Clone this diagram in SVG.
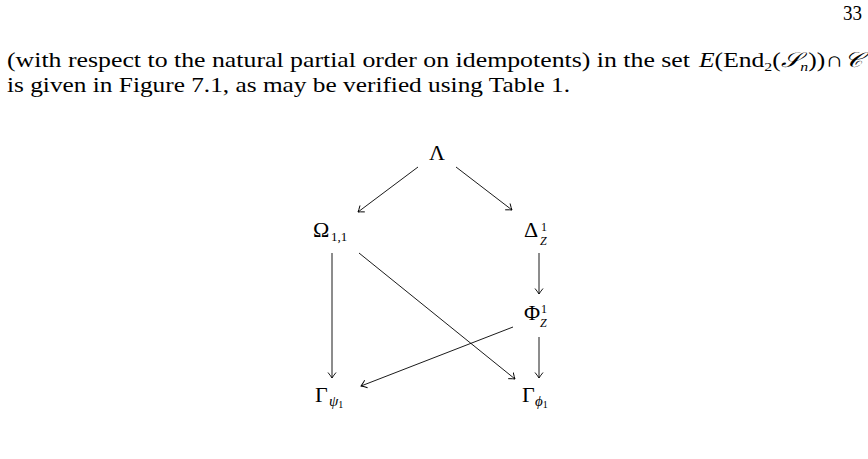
<svg xmlns="http://www.w3.org/2000/svg" width="868" height="459" viewBox="0 0 868 459">
<style>
.t{font-family:"Liberation Serif","DejaVu Serif",serif;font-size:21px;fill:#000}
.m{font-family:"Liberation Serif","DejaVu Serif",serif;font-size:22px;fill:#000}
.s{font-size:13px}
.ss{font-size:12px}
.i{font-style:italic}
.e{stroke:#000;stroke-width:0.9;fill:none}
</style>
<defs>
<marker id="ah" viewBox="-6 -5 7 10" refX="0" refY="0" markerWidth="7" markerHeight="10" markerUnits="userSpaceOnUse" orient="auto">
<path d="M-5.5,-4 Q-1.5,-0.8 0,0 Q-1.5,0.8 -5.5,4" fill="none" stroke="#000" stroke-width="0.9"/>
</marker>
</defs>
<g id="page-text">
<text class="t" x="843" y="20" textLength="19" lengthAdjust="spacingAndGlyphs">33</text>
<text class="t" x="7" y="67" textLength="683" lengthAdjust="spacingAndGlyphs">(with respect to the natural partial order on idempotents) in the set</text>
<text class="t" x="699" y="67" textLength="163" lengthAdjust="spacingAndGlyphs"><tspan class="i">E</tspan>(End<tspan class="s" dy="4">2</tspan><tspan dy="-4">(</tspan><tspan class="i">𝒮</tspan><tspan class="s i" dy="4">n</tspan><tspan dy="-4">))∩</tspan><tspan class="i">𝒞</tspan></text>
<text class="t" x="7" y="92" textLength="563" lengthAdjust="spacingAndGlyphs">is given in Figure 7.1, as may be verified using Table 1.</text>
</g>
<g id="n-lambda"><text class="m" x="437" y="160" text-anchor="middle">Λ</text></g>
<g id="n-omega"><text class="m" x="313" y="237">Ω<tspan class="s" x="331" dy="4">1,1</tspan></text></g>
<g id="n-delta"><text class="m" x="524" y="237">Δ<tspan class="ss" x="541" dy="-6.5">1</tspan><tspan class="ss i" x="540" dy="14">Z</tspan></text></g>
<g id="n-phi"><text class="m" x="524" y="320">Φ<tspan class="ss" x="541" dy="-7">1</tspan><tspan class="ss i" x="540" dy="14">Z</tspan></text></g>
<g id="n-gpsi"><text class="m" x="315" y="402">Γ<tspan class="i" font-size="15" x="329" dy="4">ψ</tspan><tspan font-size="10" dy="1.5">1</tspan></text></g>
<g id="n-gphi"><text class="m" x="522" y="402">Γ<tspan class="i" font-size="15" x="535" dy="4">ϕ</tspan><tspan font-size="10" dy="1.5">1</tspan></text></g>
<g id="connectors">
<line class="e" x1="418" y1="167" x2="358" y2="212" marker-end="url(#ah)"/>
<line class="e" x1="456" y1="167" x2="512" y2="210" marker-end="url(#ah)"/>
<line class="e" x1="332" y1="253" x2="332" y2="378" marker-end="url(#ah)"/>
<line class="e" x1="359" y1="253" x2="515" y2="379" marker-end="url(#ah)"/>
<line class="e" x1="539" y1="253" x2="539" y2="294" marker-end="url(#ah)"/>
<line class="e" x1="513" y1="327" x2="361" y2="386" marker-end="url(#ah)"/>
<line class="e" x1="539" y1="337" x2="539" y2="378" marker-end="url(#ah)"/>
</g>
</svg>
